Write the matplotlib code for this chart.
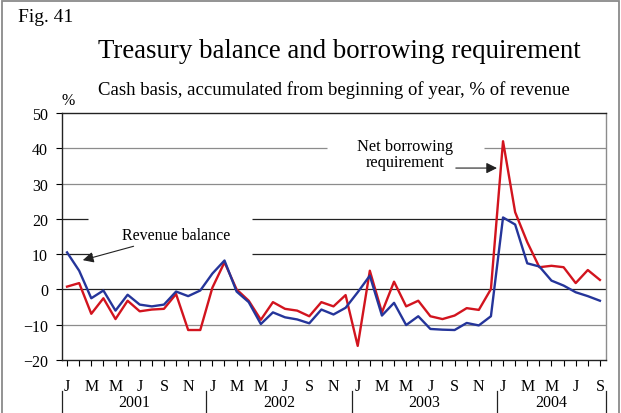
import matplotlib
matplotlib.use("Agg")
import matplotlib.pyplot as plt
import matplotlib.transforms as mtrans
from matplotlib.patches import Rectangle

plt.rcParams['font.family'] = ['Liberation Serif', 'DejaVu Serif']

# monthly, Jan 2001 - Sep 2004
years = ['2001', '2002', '2003', '2004']
month_letters = ['J', 'F', 'M', 'A', 'M', 'J', 'J', 'A', 'S', 'O', 'N', 'D']
n_months = 45

net_borrowing = [0.8, 1.8, -6.9, -2.5, -8.4, -3.2, -6.2, -5.7, -5.5, -1.3, -11.5, -11.5,
                 0.5, 7.7, 0.0, -3.2, -8.6, -3.6, -5.5, -6.0, -7.6, -3.6, -4.8, -1.6,
                 -16.0, 5.3, -6.5, 2.2, -4.8, -3.2, -7.6, -8.4, -7.4, -5.3, -5.8, 0.1,
                 42.0, 21.9, 13.4, 6.3, 6.7, 6.3, 1.8, 5.5, 2.7]
revenue_balance = [10.5, 5.3, -2.5, -0.3, -6.0, -1.5, -4.3, -4.8, -4.3, -0.6, -1.9, -0.3,
                   4.5, 8.2, -0.6, -3.6, -9.8, -6.5, -7.9, -8.5, -9.6, -5.7, -7.1, -5.2,
                   -0.8, 3.9, -7.4, -3.8, -10.1, -7.6, -11.2, -11.4, -11.5, -9.5, -10.2, -7.6,
                   20.4, 18.4, 7.4, 6.5, 2.5, 1.1, -0.8, -1.9, -3.2]

red = '#d2141e'
blue = '#25359a'

fig = plt.figure(figsize=(6.21, 4.14), dpi=100)
fig.patches.append(Rectangle((0.004, -0.05), 0.993, 1.045, transform=fig.transFigure,
                             fill=False, edgecolor='#8a8a8a', lw=1.3))

ax = fig.add_axes([0.0998, 0.128, 0.876, 0.5966])
x = list(range(n_months))

# gridlines, some broken where the labels sit
xmin, xmax = -0.42, 44.5
grid = {
    40: ([(xmin, 21.5), (34.4, xmax)], '#8c8c8c'),
    30: ([(xmin, xmax)], '#8c8c8c'),
    20: ([(xmin, 1.7), (15.3, xmax)], '#222222'),
    10: ([(xmin, 2.1), (15.3, xmax)], '#222222'),
    0: ([(xmin, xmax)], '#222222'),
    -10: ([(xmin, xmax)], '#8c8c8c'),
}
for yv, (segs, col) in grid.items():
    for a, b in segs:
        ax.hlines(yv, a, b, color=col, lw=0.9, zorder=1)

ax.plot(x, net_borrowing, color=red, lw=1.7, zorder=3)
ax.plot(x, revenue_balance, color=blue, lw=1.7, zorder=4)

ax.set_xlim(xmin, xmax)
ax.set_ylim(-20, 50)
ax.set_yticks(range(-20, 51, 10))
ax.set_xticks(x)
ax.set_xticklabels([month_letters[i % 12] if i % 2 == 0 else '' for i in x])
ax.tick_params(axis='x', direction='out', length=4, width=0.8, pad=9, labelsize=11.5)
ax.tick_params(axis='y', direction='out', length=4, width=0.8, pad=6, labelsize=11.5)
for s in ax.spines.values():
    s.set_linewidth(1.0)
    s.set_color('#222222')
ax.spines['right'].set_color('#8c8c8c')

# year labels and separators
tr = mtrans.blended_transform_factory(ax.transData, ax.transAxes)
bounds = [xmin, 11.5, 23.5, 35.5, xmax]
for k, yr in enumerate(years):
    ax.text((bounds[k] + bounds[k + 1]) / 2, -0.17, yr, transform=tr,
            ha='center', va='center', fontsize=11.5)
for b in bounds:
    ax.plot([b, b], [-0.125, -0.23], transform=tr, color='#222222', lw=0.9, clip_on=False)

# annotations
ax.annotate('Revenue balance', xy=(1.3, 8.3), xytext=(4.5, 15.5), fontsize=11.5,
            ha='left', va='center',
            arrowprops=dict(arrowstyle='-|>', color='#222222', lw=0.8, mutation_scale=16,
                            shrinkA=2, shrinkB=0))
ax.annotate('', xy=(35.5, 34.4), xytext=(32.1, 34.4),
            arrowprops=dict(arrowstyle='-|>', color='#222222', lw=0.8, mutation_scale=16,
                            shrinkA=0, shrinkB=0))
ax.text(27.9, 38.3, 'Net borrowing\nrequirement', fontsize=11.8, ha='center', va='center',
        linespacing=1.0)

fig.text(0.029, 0.958, 'Fig. 41', fontsize=14, ha='left', va='center')
fig.text(0.547, 0.875, 'Treasury balance and borrowing requirement', fontsize=19.4,
         ha='center', va='center')
fig.text(0.538, 0.783, 'Cash basis, accumulated from beginning of year, % of revenue',
         fontsize=13.5, ha='center', va='center')
fig.text(0.11, 0.757, '%', fontsize=11.5, ha='center', va='center')

plt.savefig('out.png', dpi=100)
